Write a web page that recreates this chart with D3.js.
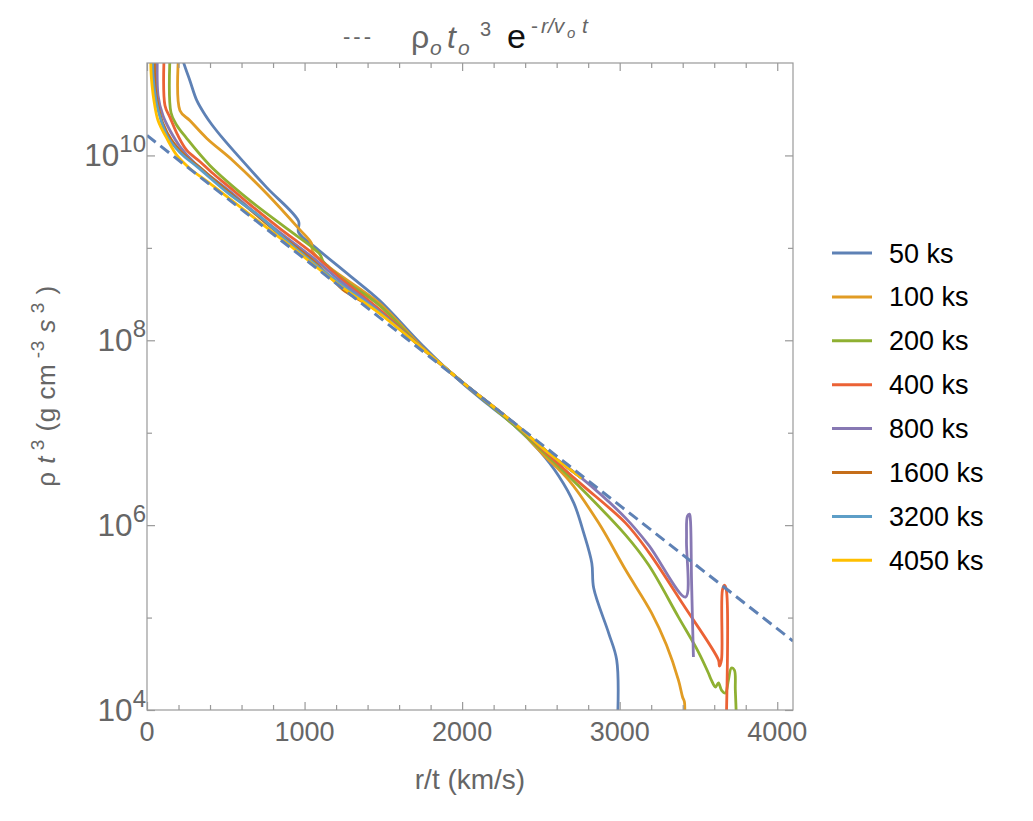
<!DOCTYPE html>
<html><head><meta charset="utf-8">
<script src="https://cdn.jsdelivr.net/npm/d3@7"></script>
<style>
body{margin:0;background:#fff;}
svg{font-family:"Liberation Sans", Arial, sans-serif;}
</style></head><body>
<svg id="c" width="1033" height="821"></svg>
<script>
// ---------- DATA ----------
// Each point: [r/t in km/s, log10(rho t^3 in g cm^-3 s^3)]
const seriesLabels = ["50 ks","100 ks","200 ks","400 ks","800 ks","1600 ks","3200 ks","4050 ks"];

const s50 = [[222,11.081],[234,10.995],[272,10.811],[316,10.595],[367,10.443],[411,10.335],[487,10.173],[570,10.011],
  [759,9.654],[962,9.287],[962,9.168],[1076,8.995],[1285,8.702],[1475,8.432],[1747,7.946],[1994,7.546],[2171,7.297],
  [2329,7.081],[2487,6.811],[2614,6.530],[2709,6.238],[2772,5.913],[2823,5.589],[2835,5.319],[2930,4.832],[2981,4.541],[2987,3.9]];

const s100 = [[209,11.3],[209,10.487],[272,10.378],[380,10.184],[544,9.946],[759,9.589],[968,9.200],[1044,9.049],[1051,8.962],
  [1158,8.789],[1475,8.400],[1747,7.924],[1994,7.557],[2329,7.092],[2519,6.757],[2677,6.486],[2867,6.022],[3038,5.514],
  [3203,5.049],[3297,4.703],[3373,4.324],[3399,4.141],[3411,4.086],[3411,3.9]];

const s200 = [[152,11.3],[152,10.465],[190,10.324],[247,10.195],[399,9.892],[652,9.514],[886,9.211],[1095,8.935],[1120,8.849],
  [1253,8.649],[1475,8.378],[1747,7.913],[1994,7.557],[2329,7.081],[2551,6.735],[2722,6.454],[3038,5.892],[3184,5.568],
  [3373,5.005],[3500,4.627],[3563,4.400],[3582,4.324],[3608,4.249],[3627,4.292],[3646,4.216],[3671,4.184],[3690,4.324],
  [3709,4.454],[3728,4.432],[3734,4.216],[3741,3.9]];

const s400 = [[114,11.3],[114,10.541],[146,10.411],[196,10.216],[253,10.054],[335,9.935],[411,9.816],[525,9.654],[652,9.470],
  [842,9.211],[1051,8.940],[1222,8.681],[1475,8.335],[1747,7.913],[1994,7.557],[2329,7.103],[2551,6.757],[2741,6.465],
  [3038,6.022],[3184,5.708],[3405,5.135],[3627,4.541],[3633,4.476],[3646,4.541],[3652,5.297],[3665,5.351],[3677,5.297],[3677,3.9]];

const s800 = [[70,11.3],[70,10.649],[101,10.432],[146,10.270],[209,10.097],[304,9.914],[411,9.762],[525,9.611],[652,9.427],
  [842,9.168],[1051,8.897],[1222,8.649],[1475,8.313],[1747,7.913],[1994,7.557],[2329,7.103],[2551,6.778],[2759,6.508],
  [3038,6.076],[3184,5.784],[3418,5.222],[3424,5.838],[3430,6.097],[3443,6.119],[3449,6.054],[3456,5.405],[3468,4.573]];

const s1600 = [[51,11.3],[51,10.757],[70,10.541],[101,10.346],[158,10.162],[241,10.000],[335,9.870],[430,9.730],[652,9.416],
  [842,9.146],[1051,8.865],[1177,8.660],[1241,8.551],[1475,8.303],[1747,7.913],[1994,7.557],[2329,7.103],[2551,6.778],[2759,6.508]];

const s3200 = [[38,11.3],[38,10.865],[57,10.595],[89,10.378],[133,10.195],[209,10.032],[323,9.870],[525,9.578],[715,9.341],
  [905,9.049],[1222,8.616],[1475,8.303],[1747,7.913],[1994,7.557],[2329,7.103],[2551,6.778],[2759,6.508]];

const s4050 = [[25,11.3],[25,10.919],[32,10.757],[44,10.595],[70,10.378],[133,10.162],[190,10.000],[272,9.859],[399,9.697],
  [652,9.362],[905,9.027],[1222,8.595],[1475,8.292],[1747,7.913],[1994,7.557],[2329,7.103],[2551,6.778],[2759,6.508]];

// dashed fit rho_o t_o^3 exp(-r/(v_o t)): straight line in log space, endpoints
const fitLine = [[0,10.216],[4100,4.746]];

const xTicksMajor = [0,1000,2000,3000,4000];
const xTicksMinor = [200,400,600,800,1200,1400,1600,1800,2200,2400,2600,2800,3200,3400,3600,3800];
const yTickExponents = [4,6,8,10];
const yMinorExponents = [5,7,9];

// ---------- STYLE ----------
const colors = ["#5E81B5","#E19C24","#8FB032","#EB6235","#8778B3","#C56E1A","#5D9EC7","#FFBF00"];
const seriesData = [s50,s100,s200,s400,s800,s1600,s3200,s4050];
const gray = "#666", frameCol = "#999";

const svg = d3.select("#c");
const L=147, R=793, T=63, B=710;
const x = d3.scaleLinear().domain([0,4100]).range([L,R]);
const y = d3.scaleLog().domain([1e4,1e11]).range([B,T]);

svg.append("defs").append("clipPath").attr("id","clip")
  .append("rect").attr("x",L).attr("y",T).attr("width",R-L).attr("height",B-T);

const line = d3.line().x(d=>x(d[0])).y(d=>y(Math.pow(10,d[1]))).curve(d3.curveCatmullRom.alpha(0.5));
const straight = d3.line().x(d=>x(d[0])).y(d=>y(Math.pow(10,d[1])));

const plot = svg.append("g").attr("clip-path","url(#clip)");
seriesData.forEach((s,i)=>{
  plot.append("path").attr("d",line(s)).attr("fill","none")
    .attr("stroke",colors[i]).attr("stroke-width",2.8).attr("stroke-linejoin","round");
});
plot.append("path").attr("d",straight(fitLine)).attr("fill","none")
  .attr("stroke",colors[0]).attr("stroke-width",3).attr("stroke-dasharray","11,6");

// frame
svg.append("rect").attr("x",L).attr("y",T).attr("width",R-L).attr("height",B-T)
  .attr("fill","none").attr("stroke",frameCol).attr("stroke-width",1.2);

function styleAxis(g){ g.select(".domain").remove(); g.selectAll("line").attr("stroke",frameCol).attr("stroke-width",1.2); g.selectAll("text").remove(); }
svg.append("g").attr("transform",`translate(0,${B})`).call(d3.axisBottom(x).tickValues(xTicksMajor).tickSizeInner(-8).tickSizeOuter(0)).call(styleAxis);
svg.append("g").attr("transform",`translate(0,${B})`).call(d3.axisBottom(x).tickValues(xTicksMinor).tickSizeInner(-5).tickSizeOuter(0)).call(styleAxis);
svg.append("g").attr("transform",`translate(0,${T})`).call(d3.axisTop(x).tickValues(xTicksMajor).tickSizeInner(-8).tickSizeOuter(0)).call(styleAxis);
svg.append("g").attr("transform",`translate(0,${T})`).call(d3.axisTop(x).tickValues(xTicksMinor).tickSizeInner(-5).tickSizeOuter(0)).call(styleAxis);
const yMaj = yTickExponents.map(e=>Math.pow(10,e)), yMin = yMinorExponents.map(e=>Math.pow(10,e));
svg.append("g").attr("transform",`translate(${L},0)`).call(d3.axisLeft(y).tickValues(yMaj).tickSizeInner(-8).tickSizeOuter(0)).call(styleAxis);
svg.append("g").attr("transform",`translate(${L},0)`).call(d3.axisLeft(y).tickValues(yMin).tickSizeInner(-5).tickSizeOuter(0)).call(styleAxis);
svg.append("g").attr("transform",`translate(${R},0)`).call(d3.axisRight(y).tickValues(yMaj).tickSizeInner(-8).tickSizeOuter(0)).call(styleAxis);
svg.append("g").attr("transform",`translate(${R},0)`).call(d3.axisRight(y).tickValues(yMin).tickSizeInner(-5).tickSizeOuter(0)).call(styleAxis);

// x tick labels
svg.append("g").selectAll("text").data(xTicksMajor).join("text")
  .attr("x",d=>x(d)).attr("y",B+31).attr("text-anchor","middle")
  .attr("font-size",27).attr("fill",gray).text(d=>d);

// y tick labels 10^n (right-aligned next to the axis)
const yl = svg.append("g").selectAll("text").data(yTickExponents).join("text")
  .attr("x",L-1).attr("y",d=>y(Math.pow(10,d))+11).attr("text-anchor","end").attr("fill",gray);
yl.append("tspan").attr("font-size",31.5).text("10");
yl.append("tspan").attr("font-size",24).attr("dy",-14).text(d=>d);

// axis titles
svg.append("text").attr("x",(L+R)/2).attr("y",789).attr("text-anchor","middle")
  .attr("font-size",28).attr("fill",gray).text("r/t (km/s)");

const yt = svg.append("text").attr("transform","translate(55,386) rotate(-90)")
  .attr("text-anchor","middle").attr("font-size",26).attr("letter-spacing",0.5).attr("fill",gray).style("white-space","pre");
yt.append("tspan").text("ρ ");
yt.append("tspan").attr("font-style","italic").text("t");
yt.append("tspan").attr("font-size",19).attr("dy",-11).text(" 3");
yt.append("tspan").attr("dy",11).text(" (g cm");
yt.append("tspan").attr("font-size",19).attr("dy",-11).text(" -3");
yt.append("tspan").attr("dy",11).attr("font-style","italic").text(" s");
yt.append("tspan").attr("font-size",19).attr("dy",-11).text(" 3");
yt.append("tspan").attr("dy",11).text(" )");

// title (pieces placed individually)
const tt = svg.append("text").attr("fill",gray);
tt.append("tspan").attr("x",343).attr("y",44).attr("font-size",22).attr("letter-spacing",3).text("---");
tt.append("tspan").attr("x",411).attr("y",48).attr("font-size",32).text("ρ");
tt.append("tspan").attr("x",430).attr("y",55).attr("font-size",21).attr("font-style","italic").text("o");
tt.append("tspan").attr("x",447).attr("y",48).attr("font-size",32).attr("font-style","italic").text("t");
tt.append("tspan").attr("x",458).attr("y",55).attr("font-size",21).attr("font-style","italic").text("o");
tt.append("tspan").attr("x",480).attr("y",36).attr("font-size",20).text("3");
tt.append("tspan").attr("x",507).attr("y",48).attr("font-size",34).attr("fill","#111").text("e");
tt.append("tspan").attr("x",531).attr("y",33).attr("font-size",21).text("-");
tt.append("tspan").attr("x",541).attr("y",33).attr("font-size",21).attr("font-style","italic").text("r/v");
tt.append("tspan").attr("x",567).attr("y",38).attr("font-size",15).attr("font-style","italic").text("o");
tt.append("tspan").attr("x",582).attr("y",33).attr("font-size",21).attr("font-style","italic").text("t");

// legend
const lg = svg.append("g");
seriesLabels.forEach((lab,i)=>{
  const yy = 253 + i*43.9;
  lg.append("line").attr("x1",832).attr("x2",872).attr("y1",yy).attr("y2",yy)
    .attr("stroke",colors[i]).attr("stroke-width",3);
  lg.append("text").attr("x",889).attr("y",yy+9.5).attr("font-size",27).attr("fill","#000").text(lab);
});
</script>
</body></html>
